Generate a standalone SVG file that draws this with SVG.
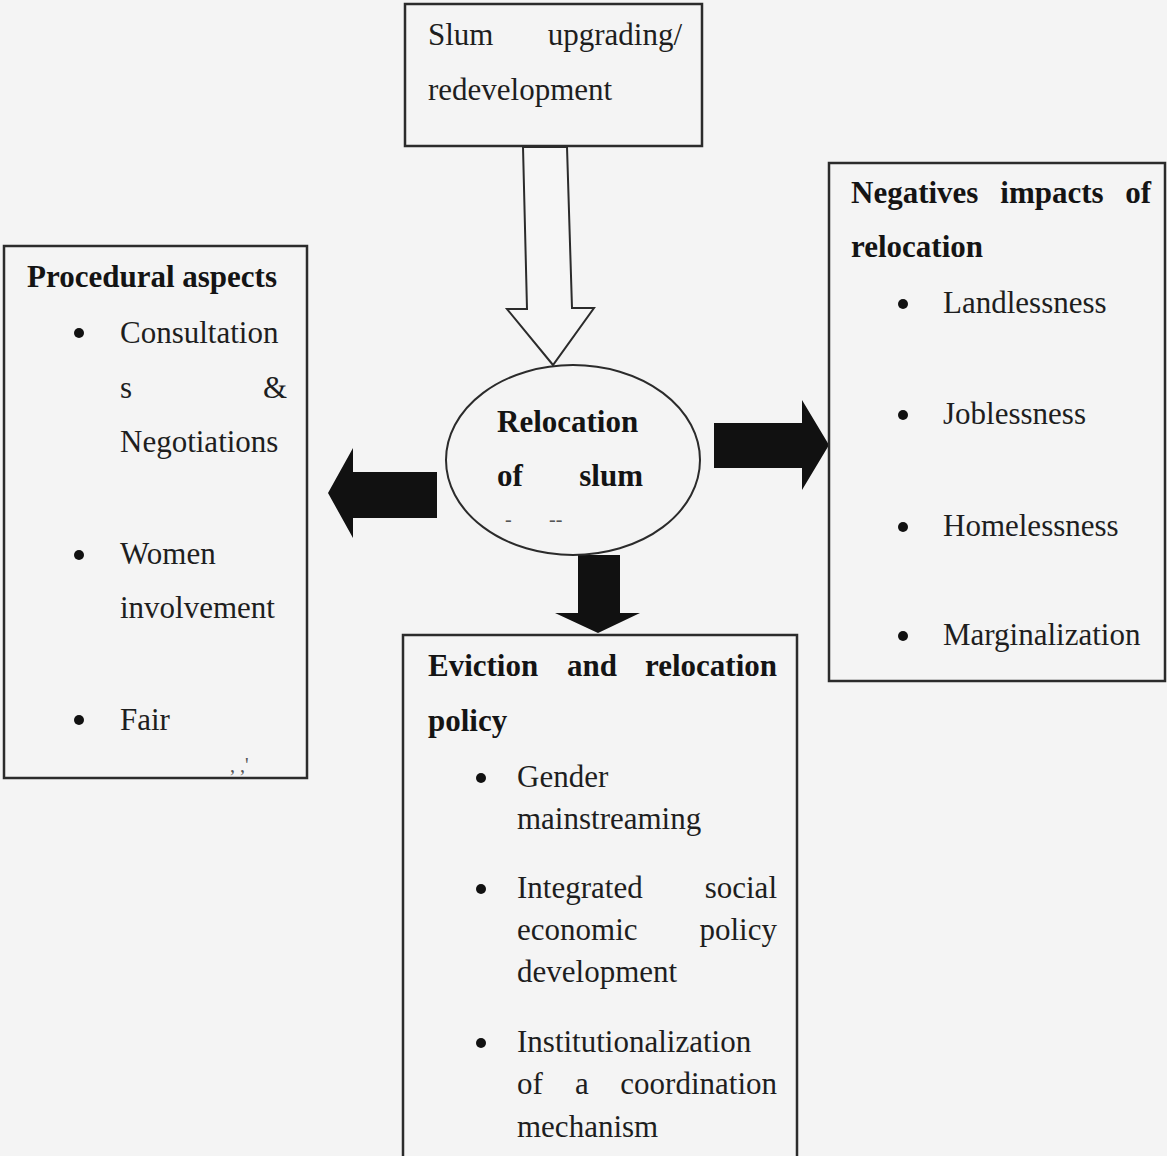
<svg xmlns="http://www.w3.org/2000/svg" width="1167" height="1156" viewBox="0 0 1167 1156">
  <style>
    .box { fill: none; stroke: #2b2b2b; stroke-width: 2.5; }
    .t { font-family: "Liberation Serif", "Times New Roman", serif; font-size: 31px; fill: #1e1e1e; }
    .b { font-weight: bold; fill: #141414; }
    .e { text-anchor: end; }
    .m { text-anchor: middle; }
    .dot { fill: #111; }
    .solid { fill: #111; stroke: none; }
    .hollow { fill: #f6f6f6; stroke: #2b2b2b; stroke-width: 2; }
    .mark { font-family: "Liberation Serif", serif; font-size: 20px; fill: #555; }
  </style>
  <rect x="0" y="0" width="1167" height="1156" fill="#f4f4f4"/>

  <g id="connectors">
    <polygon class="hollow" points="523,147 527,309 507,309 553,365 594,308 572,308 567,147"/>
    <polygon class="solid" points="714,423 802,423 802,400 829,445 802,490 802,468 714,468"/>
    <polygon class="solid" points="437,472 353,472 353,448 328,493 353,538 353,518 437,518"/>
    <polygon class="solid" points="578,555 620,555 620,613 640,613 598,633 555,613 578,613"/>
  </g>

  <g id="node-slum-upgrading">
    <rect class="box" x="405" y="4" width="297" height="142"/>
    <text class="t" x="428" y="45">Slum</text>
    <text class="t e" x="682" y="45">upgrading/</text>
    <text class="t" x="428" y="100">redevelopment</text>
  </g>

  <g id="node-relocation">
    <ellipse cx="573" cy="460" rx="127" ry="95" fill="none" stroke="#2b2b2b" stroke-width="2"/>
    <text class="t b" x="497" y="432">Relocation</text>
    <text class="t b" x="497" y="486">of</text>
    <text class="t b e" x="643" y="486">slum</text>
    <text class="mark" x="505" y="526">-</text>
    <text class="mark" x="549" y="526">--</text>
  </g>

  <g id="node-procedural">
    <rect class="box" x="4" y="246" width="303" height="532"/>
    <text class="t b" x="27" y="287">Procedural aspects</text>
    <circle class="dot" cx="79" cy="333" r="5"/>
    <text class="t" x="120" y="343">Consultation</text>
    <text class="t" x="120" y="398">s</text>
    <text class="t e" x="287" y="398">&amp;</text>
    <text class="t" x="120" y="452">Negotiations</text>
    <circle class="dot" cx="79" cy="555" r="5"/>
    <text class="t" x="120" y="564">Women</text>
    <text class="t" x="120" y="618">involvement</text>
    <circle class="dot" cx="79" cy="720" r="5"/>
    <text class="t" x="120" y="730">Fair</text>
    <text class="mark" x="230" y="772">,  ,'</text>
  </g>

  <g id="node-negatives">
    <rect class="box" x="829" y="163" width="336" height="518"/>
    <text class="t b" x="851" y="203">Negatives</text>
    <text class="t b m" x="1052" y="203">impacts</text>
    <text class="t b e" x="1151" y="203">of</text>
    <text class="t b" x="851" y="257">relocation</text>
    <circle class="dot" cx="903" cy="304" r="5"/>
    <text class="t" x="943" y="313">Landlessness</text>
    <circle class="dot" cx="903" cy="415" r="5"/>
    <text class="t" x="943" y="424">Joblessness</text>
    <circle class="dot" cx="903" cy="527" r="5"/>
    <text class="t" x="943" y="536">Homelessness</text>
    <circle class="dot" cx="903" cy="636" r="5"/>
    <text class="t" x="943" y="645">Marginalization</text>
  </g>

  <g id="node-eviction-policy">
    <rect class="box" x="403" y="635" width="394" height="540"/>
    <text class="t b" x="428" y="676">Eviction</text>
    <text class="t b m" x="592" y="676">and</text>
    <text class="t b e" x="777" y="676">relocation</text>
    <text class="t b" x="428" y="731">policy</text>
    <circle class="dot" cx="481" cy="778" r="5"/>
    <text class="t" x="517" y="787">Gender</text>
    <text class="t" x="517" y="829">mainstreaming</text>
    <circle class="dot" cx="481" cy="889" r="5"/>
    <text class="t" x="517" y="898">Integrated</text>
    <text class="t e" x="777" y="898">social</text>
    <text class="t" x="517" y="940">economic</text>
    <text class="t e" x="777" y="940">policy</text>
    <text class="t" x="517" y="982">development</text>
    <circle class="dot" cx="481" cy="1043" r="5"/>
    <text class="t" x="517" y="1052">Institutionalization</text>
    <text class="t" x="517" y="1094">of</text>
    <text class="t m" x="582" y="1094">a</text>
    <text class="t e" x="777" y="1094">coordination</text>
    <text class="t" x="517" y="1137">mechanism</text>
  </g>
</svg>
